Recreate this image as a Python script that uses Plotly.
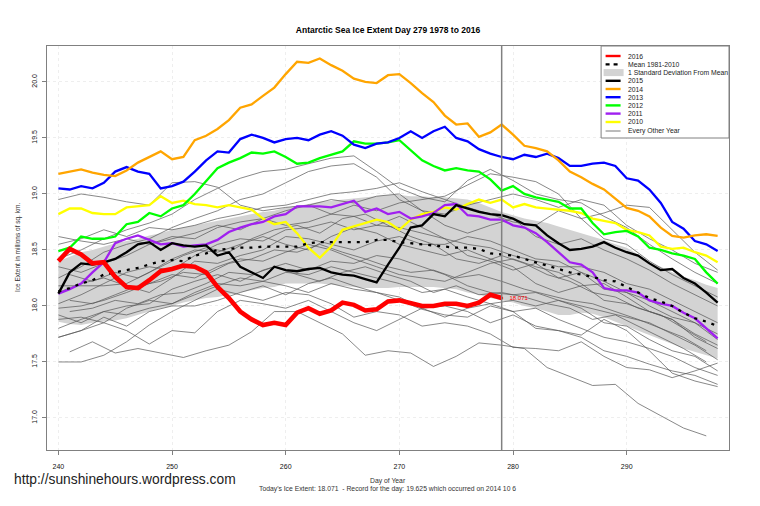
import plotly.graph_objects as go

FONT = "Liberation Sans"
W, H = 760, 506
LEFT, RIGHT, TOP, BOTTOM = 47, 729.5, 46, 450

days = list(range(240, 299))
days_even = list(range(240, 299, 2))
days_odd = list(range(241, 298, 2))
days_2016 = list(range(240, 280))

# ice extent, one row per ten days
ice_2016 = [18.4, 18.51, 18.46, 18.38, 18.39, 18.26, 18.17, 18.16, 18.23, 18.31,
            18.33, 18.36, 18.35, 18.3, 18.17, 18.07, 17.95, 17.88, 17.83, 17.85,
            17.83, 17.94, 17.98, 17.93, 17.96, 18.03, 18.01, 17.96, 17.97, 18.04,
            18.05, 18.03, 18.0, 18.0, 18.02, 18.02, 18.0, 18.03, 18.1, 18.071]
ice_mean = [18.13, 18.16, 18.2, 18.23, 18.28, 18.3, 18.32, 18.34, 18.37, 18.4,
            18.41, 18.4, 18.45, 18.47, 18.5, 18.51, 18.52, 18.52, 18.53, 18.53,
            18.53, 18.53, 18.56, 18.57, 18.57, 18.57, 18.57, 18.57, 18.59, 18.59,
            18.57, 18.56, 18.55, 18.54, 18.53, 18.52, 18.52, 18.51, 18.47, 18.46,
            18.45, 18.42, 18.39, 18.36, 18.33, 18.3, 18.28, 18.26, 18.23, 18.22,
            18.17, 18.12, 18.07, 18.04, 18.0, 17.94, 17.89, 17.86, 17.82]
sd_upper = [18.4, 18.44, 18.48, 18.5, 18.53, 18.56, 18.58, 18.6, 18.63, 18.65,
            18.68, 18.7, 18.72, 18.74, 18.76, 18.78, 18.8, 18.82, 18.84, 18.85,
            18.88, 18.89, 18.91, 18.93, 18.94, 18.95, 18.96, 18.97, 18.98, 18.99,
            18.99, 18.98, 18.98, 18.97, 18.97, 18.96, 18.95, 18.92, 18.88, 18.84,
            18.81, 18.78, 18.76, 18.74, 18.71, 18.68, 18.65, 18.62, 18.59, 18.55,
            18.52, 18.46, 18.39, 18.35, 18.3, 18.26, 18.23, 18.19, 18.16]
sd_lower = [17.86, 17.84, 17.83, 17.85, 17.86, 17.87, 17.89, 17.92, 17.95, 17.98,
            18.0, 18.03, 18.05, 18.07, 18.08, 18.1, 18.12, 18.14, 18.16, 18.17,
            18.2, 18.2, 18.2, 18.2, 18.19, 18.18, 18.17, 18.16, 18.16, 18.16,
            18.17, 18.17, 18.17, 18.17, 18.16, 18.15, 18.12, 18.1, 18.07, 18.05,
            18.03, 18.0, 17.98, 17.95, 17.92, 17.92, 17.94, 17.93, 17.9, 17.86,
            17.82, 17.78, 17.74, 17.7, 17.66, 17.62, 17.59, 17.56, 17.53]
ice_2015 = [18.11, 18.3, 18.38, 18.37, 18.39, 18.42, 18.48, 18.55, 18.57, 18.5,
            18.56, 18.54, 18.53, 18.54, 18.45, 18.48, 18.35, 18.3, 18.25, 18.35,
            18.32, 18.31, 18.33, 18.34, 18.3, 18.28, 18.27, 18.24, 18.21, 18.37,
            18.52, 18.7, 18.72, 18.82, 18.8, 18.9, 18.87, 18.84, 18.82, 18.81,
            18.78, 18.73, 18.72, 18.63, 18.56, 18.5, 18.51, 18.53, 18.57, 18.52,
            18.48, 18.45, 18.38, 18.32, 18.33, 18.25, 18.2, 18.12, 18.03]
ice_2014 = [19.18, 19.2, 19.22, 19.19, 19.17, 19.16, 19.21, 19.28, 19.33, 19.38,
            19.31, 19.33, 19.48, 19.52, 19.58, 19.66, 19.77, 19.8, 19.875, 19.95,
            20.07, 20.18, 20.17, 20.21, 20.15, 20.1, 20.03, 20.0, 19.99, 20.06,
            20.07, 19.99, 19.9, 19.82, 19.7, 19.62, 19.63, 19.51, 19.55, 19.62,
            19.53, 19.43, 19.41, 19.38, 19.3, 19.2, 19.15, 19.09, 19.04, 18.96,
            18.875, 18.85, 18.8, 18.7, 18.625, 18.61, 18.63, 18.64, 18.625]
ice_2013 = [19.05, 19.04, 19.07, 19.05, 19.1, 19.2, 19.24, 19.2, 19.18, 19.05,
            19.07, 19.11, 19.2, 19.3, 19.38, 19.37, 19.49, 19.53, 19.5, 19.46,
            19.49, 19.5, 19.48, 19.53, 19.56, 19.52, 19.44, 19.41, 19.45, 19.46,
            19.5, 19.56, 19.5, 19.56, 19.6, 19.5, 19.47, 19.4, 19.36, 19.33,
            19.31, 19.35, 19.33, 19.36, 19.32, 19.25, 19.25, 19.27, 19.28, 19.25,
            19.14, 19.12, 19.04, 18.92, 18.75, 18.69, 18.58, 18.55, 18.49]
ice_2012 = [18.49, 18.52, 18.62, 18.6, 18.6, 18.62, 18.73, 18.75, 18.83, 18.8,
            18.87, 18.9, 19.0, 19.12, 19.23, 19.28, 19.32, 19.37, 19.36, 19.38,
            19.33, 19.27, 19.28, 19.32, 19.35, 19.38, 19.47, 19.45, 19.45, 19.46,
            19.48, 19.39, 19.3, 19.25, 19.21, 19.23, 19.21, 19.2, 19.13, 19.03,
            19.07, 19.0, 18.97, 18.95, 18.93, 18.87, 18.87, 18.74, 18.64, 18.66,
            18.67, 18.62, 18.52, 18.5, 18.47, 18.45, 18.42, 18.3, 18.2]
ice_2011 = [18.11, 18.15, 18.2, 18.3, 18.39, 18.56, 18.6, 18.63, 18.59, 18.55,
            18.56, 18.53, 18.54, 18.55, 18.59, 18.66, 18.7, 18.73, 18.75, 18.8,
            18.82, 18.89, 18.89, 18.89, 18.88, 18.91, 18.94, 18.84, 18.87, 18.82,
            18.84, 18.78, 18.8, 18.83, 18.9, 18.91, 18.81, 18.8, 18.77, 18.77,
            18.72, 18.7, 18.65, 18.57, 18.48, 18.39, 18.37, 18.3, 18.16, 18.14,
            18.14, 18.12, 18.05, 18.02, 18.0, 17.94, 17.89, 17.8, 17.71]
ice_2010 = [18.82, 18.87, 18.87, 18.83, 18.82, 18.82, 18.88, 18.89, 18.9, 18.98,
            18.92, 18.94, 18.91, 18.9, 18.88, 18.9, 18.88, 18.86, 18.78, 18.73,
            18.75, 18.65, 18.52, 18.43, 18.53, 18.68, 18.71, 18.74, 18.77, 18.75,
            18.68, 18.77, 18.82, 18.84, 18.88, 18.86, 18.91, 18.95, 18.92, 18.95,
            18.88, 18.91, 18.88, 18.87, 18.86, 18.85, 18.83, 18.78, 18.76, 18.74,
            18.68, 18.66, 18.63, 18.53, 18.51, 18.52, 18.48, 18.45, 18.39]

# every other year, older ones only have a value every second day
grey_even = [
    [18.95, 19.0, 18.97, 18.93, 18.9, 19.1, 19.11, 19.06, 18.9, 18.85,
     18.88, 18.9, 18.82, 18.8, 18.72, 18.7, 18.65, 18.6, 18.55, 18.52,
     18.45, 18.4, 18.35, 18.35, 18.3, 18.2, 18.15, 18.05, 17.95, 17.85],
    [18.42, 18.5, 18.6, 18.68, 18.74, 18.82, 18.95, 19.05, 19.14, 19.2,
     19.22, 19.27, 19.32, 19.34, 19.2, 19.05, 18.97, 18.93, 19.12, 19.22,
     19.12, 19.0, 18.95, 18.92, 18.8, 18.7, 18.55, 18.42, 18.3, 18.2],
    [18.25, 18.35, 18.48, 18.55, 18.6, 18.7, 18.78, 18.85, 18.95, 19.0,
     19.1, 19.2, 19.25, 19.27, 19.15, 18.95, 18.85, 18.82, 18.9, 18.95,
     19.0, 18.95, 18.88, 18.95, 18.9, 18.72, 18.6, 18.5, 18.38, 18.3],
    [18.55, 18.6, 18.68, 18.62, 18.7, 18.68, 18.72, 18.78, 18.82, 18.88,
     18.9, 18.95, 19.0, 19.02, 19.05, 19.1, 19.02, 18.95, 18.88, 18.82,
     18.75, 18.72, 18.85, 18.78, 18.6, 18.55, 18.4, 18.28, 18.18, 18.08],
    [18.35, 18.3, 18.38, 18.45, 18.55, 18.62, 18.6, 18.7, 18.75, 18.78,
     18.85, 18.9, 18.95, 18.92, 18.98, 19.0, 18.85, 18.72, 18.65, 18.72,
     18.78, 18.62, 18.55, 18.6, 18.5, 18.42, 18.32, 18.2, 18.1, 18.0],
    [18.02, 18.1, 18.2, 18.3, 18.35, 18.32, 18.45, 18.55, 18.6, 18.58,
     18.68, 18.7, 18.75, 18.68, 18.72, 18.8, 18.7, 18.6, 18.45, 18.4,
     18.32, 18.38, 18.25, 18.3, 18.15, 18.12, 18.05, 17.95, 17.85, 17.75],
    [18.18, 18.18, 18.18, 18.2, 18.3, 18.42, 18.5, 18.48, 18.55, 18.62,
     18.55, 18.5, 18.62, 18.7, 18.65, 18.55, 18.5, 18.45, 18.5, 18.42,
     18.35, 18.2, 18.12, 18.18, 18.2, 18.08, 17.95, 17.88, 17.72, 17.62],
    [17.98, 18.0, 18.05, 18.12, 18.2, 18.28, 18.25, 18.35, 18.42, 18.4,
     18.48, 18.55, 18.5, 18.42, 18.35, 18.28, 18.25, 18.22, 18.3, 18.38,
     18.42, 18.35, 18.3, 18.2, 18.05, 18.02, 17.95, 17.88, 17.75, 17.65],
    [17.92, 17.85, 17.95, 18.0, 18.02, 18.15, 18.22, 18.28, 18.22, 18.32,
     18.38, 18.32, 18.4, 18.38, 18.45, 18.42, 18.35, 18.28, 18.18, 18.12,
     18.1, 18.12, 18.05, 18.0, 17.95, 17.9, 17.85, 17.75, 17.65, 17.52],
    [17.88, 17.9, 17.85, 17.98, 18.05, 18.02, 18.1, 18.18, 18.25, 18.22,
     18.3, 18.28, 18.35, 18.3, 18.25, 18.2, 18.12, 18.15, 18.08, 18.02,
     18.05, 18.0, 18.05, 17.98, 17.85, 17.82, 17.7, 17.6, 17.55, 17.42],
    [17.72, 17.78, 17.9, 17.82, 17.95, 18.0, 18.0, 18.05, 18.12, 18.18,
     18.1, 18.2, 18.25, 18.18, 18.12, 18.08, 17.98, 17.9, 17.98, 18.02,
     17.95, 17.98, 17.88, 17.8, 17.72, 17.68, 17.62, 17.55, 17.45, 17.38],
    [17.72, 17.78, 17.85, 17.78, 17.66, 17.78, 17.76, 17.95, 18.05, 18.02,
     17.98, 18.05, 17.95, 17.85, 17.78, 17.88, 17.98, 18.0, 17.95, 17.85,
     17.92, 17.82, 17.78, 17.72, 17.6, 17.55, 17.48, 17.42, 17.38, 17.3],
    [17.5, 17.5, 17.56, 17.68, 17.83, 17.95, 18.05, 18.15, 18.1, 18.05,
     18.12, 18.1, 18.02, 17.9, 17.95, 17.92, 17.82, 17.85, 17.82, 17.75,
     17.63, 17.62, 17.6, 17.68, 17.55, 17.45, 17.43, 17.36, 17.42, 17.49],
    [17.8, 17.88, 17.95, 17.92, 17.98, 18.02, 18.12, 18.2, 18.18, 18.22,
     18.18, 18.12, 18.2, 18.15, 18.12, 18.05, 17.97, 17.92, 17.9, 18.0,
     17.95, 17.8, 17.78, 17.74, 17.88, 17.78, 17.6, 17.4, 17.33, 17.28],
    [18.62, 18.58, 18.55, 18.6, 18.55, 18.6, 18.65, 18.72, 18.68, 18.78,
     18.72, 18.75, 18.82, 18.9, 18.85, 18.92, 18.95, 18.98, 19.08, 19.18,
     19.15, 19.11, 19.0, 18.78, 18.83, 18.9, 18.88, 18.68, 18.48, 18.32],
    [18.12, 18.2, 18.25, 18.18, 18.12, 18.25, 18.4, 18.38, 18.45, 18.5,
     18.62, 18.6, 18.55, 18.5, 18.58, 18.62, 18.55, 18.55, 18.62, 18.58,
     18.5, 18.42, 18.4, 18.3, 18.22, 18.12, 18.0, 17.9, 17.85, 17.7],
]
grey_odd = [
    [17.59, 17.68, 17.58, 17.62, 17.58, 17.54, 17.6, 17.65, 17.77, 17.95,
     17.95, 17.85, 17.75, 17.56, 17.6, 17.58, 17.46, 17.55, 17.67, 17.65,
     17.62, 17.45, 17.37, 17.29, 17.3, 17.13, 17.02, 16.91, 16.84],
    [18.05, 18.02, 18.1, 18.18, 18.22, 18.3, 18.28, 18.38, 18.42, 18.5,
     18.48, 18.55, 18.48, 18.42, 18.35, 18.3, 18.32, 18.25, 18.28, 18.22,
     18.15, 18.1, 18.05, 18.02, 17.95, 17.88, 17.8, 17.72, 17.6],
    [18.28, 18.22, 18.3, 18.25, 18.35, 18.45, 18.52, 18.48, 18.6, 18.68,
     18.72, 18.65, 18.78, 18.82, 18.72, 18.62, 18.55, 18.42, 18.38, 18.45,
     18.38, 18.28, 18.22, 18.12, 18.08, 17.98, 17.92, 17.8, 17.68],
    [17.95, 17.98, 18.05, 18.02, 18.1, 18.12, 18.2, 18.3, 18.28, 18.35,
     18.28, 18.22, 18.3, 18.35, 18.28, 18.22, 18.12, 18.18, 18.1, 18.12,
     18.08, 18.02, 17.98, 17.88, 17.92, 17.82, 17.72, 17.62, 17.5],
]

x_ticks = [240, 250, 260, 270, 280, 290]
y_ticks = [17.0, 17.5, 18.0, 18.5, 19.0, 19.5, 20.0]
legend_labels = ["2016", "Mean 1981-2010", "1 Standard Deviation From Mean", "2015", "2014",
                 "2013", "2012", "2011", "2010", "Every Other Year"]
legend_colors = ["#ff0000", "#000000", "#d3d3d3", "#000000", "#ffa500",
                 "#0000ff", "#00ff00", "#a020f0", "#ffff00", "#555555"]
legend_rows = [56, 64.3, 72.6, 80.8, 89, 97.2, 105.4, 113.6, 122, 131]


def px(x):
    return (x - LEFT) / (RIGHT - LEFT)


def py(y):
    return (BOTTOM - y) / (BOTTOM - TOP)


fig = go.Figure()

# 1. the standard deviation band
fig.add_trace(go.Scatter(x=days + days[::-1], y=sd_upper + sd_lower[::-1], fill="toself",
                         fillcolor="#d3d3d3", mode="lines", line=dict(width=0),
                         name="1 Standard Deviation From Mean"))

# 2. thin lines
for vals in grey_even:
    fig.add_trace(go.Scatter(x=days_even, y=vals, mode="lines",
                             line=dict(color="#555555", width=0.7), name="Every Other Year"))
for vals in grey_odd:
    fig.add_trace(go.Scatter(x=days_odd, y=vals, mode="lines",
                             line=dict(color="#555555", width=0.7), name="Every Other Year"))

# 3. the highlighted years
fig.add_trace(go.Scatter(x=days, y=ice_2010, mode="lines", line=dict(color="#ffff00", width=2.3), name="2010"))
fig.add_trace(go.Scatter(x=days, y=ice_2011, mode="lines", line=dict(color="#a020f0", width=2.3), name="2011"))
fig.add_trace(go.Scatter(x=days, y=ice_2012, mode="lines", line=dict(color="#00ff00", width=2.3), name="2012"))
fig.add_trace(go.Scatter(x=days, y=ice_2013, mode="lines", line=dict(color="#0000ff", width=2.3), name="2013"))
fig.add_trace(go.Scatter(x=days, y=ice_2014, mode="lines", line=dict(color="#ffa500", width=2.3), name="2014"))
fig.add_trace(go.Scatter(x=days, y=ice_mean, mode="lines",
                         line=dict(color="#000000", width=2.3, dash="3px,6px"), name="Mean 1981-2010"))
fig.add_trace(go.Scatter(x=days, y=ice_2015, mode="lines", line=dict(color="#000000", width=2.3), name="2015"))
fig.add_trace(go.Scatter(x=days_2016, y=ice_2016, mode="lines", line=dict(color="#ff0000", width=4.6), name="2016"))
fig.add_trace(go.Scatter(x=days_2016[-1:], y=ice_2016[-1:], mode="markers+text",
                         marker=dict(color="#ff0000", size=3),
                         text=["   " + str(ice_2016[-1])], textposition="middle right",
                         textfont=dict(family=FONT, size=6, color="#ff0000"), name="Today"))

# 4. the legend box, drawn by hand since plotly will not pack rows this tight
shapes = [
    dict(type="line", xref="x", yref="paper", x0=days_2016[-1], x1=days_2016[-1], y0=0, y1=1,
         line=dict(color="#808080", width=1.5)),
    dict(type="rect", xref="paper", yref="paper", x0=px(601.5), x1=1, y0=py(138), y1=1,
         fillcolor="#ffffff", line=dict(color="#808080", width=1)),
]
annotations = []
for label, color, row in zip(legend_labels, legend_colors, legend_rows):
    if label.startswith("1 Standard"):
        shapes.append(dict(type="rect", xref="paper", yref="paper", x0=px(604), x1=px(624),
                           y0=py(row + 3.5), y1=py(row - 3.5), fillcolor=color, line=dict(width=0)))
    elif label.startswith("Mean"):
        shapes.append(dict(type="line", xref="paper", yref="paper", x0=px(606), x1=px(621),
                           y0=py(row), y1=py(row), line=dict(color=color, width=2.2, dash="4px,4px")))
    else:
        width = 0.8 if label.startswith("Every") else 2.4
        shapes.append(dict(type="line", xref="paper", yref="paper", x0=px(606), x1=px(621),
                           y0=py(row), y1=py(row), line=dict(color=color, width=width)))
    annotations.append(dict(text=label, xref="paper", yref="paper", x=px(626), y=py(row),
                            xanchor="left", yanchor="middle", showarrow=False,
                            font=dict(family=FONT, size=6.8, color="#222222")))

# 5. texts under the chart
annotations.append(dict(text="http://sunshinehours.wordpress.com", xref="paper", yref="paper",
                        x=px(12), y=py(479), xanchor="left", yanchor="middle", showarrow=False,
                        font=dict(family=FONT, size=13.8, color="#222222")))
annotations.append(dict(text="Day of Year", xref="paper", yref="paper", x=px(388), y=py(480.5),
                        xanchor="center", yanchor="middle", showarrow=False,
                        font=dict(family=FONT, size=6.8, color="#333333")))
annotations.append(dict(text="Today's Ice Extent: 18.071  - Record for the day: 19.625 which occurred on 2014 10 6",
                        xref="paper", yref="paper", x=px(388), y=py(489), xanchor="center", yanchor="middle",
                        showarrow=False, font=dict(family=FONT, size=6.8, color="#333333")))
annotations.append(dict(text="Ice Extent in millions of sq. km.", xref="paper", yref="paper", x=px(18), y=py(248),
                        xanchor="center", yanchor="middle", textangle=-90, showarrow=False,
                        font=dict(family=FONT, size=6.5, color="#333333")))

fig.update_layout(
    width=W, height=H, autosize=False,
    margin=dict(l=LEFT, r=W - RIGHT, t=TOP, b=H - BOTTOM, pad=0),
    paper_bgcolor="#ffffff", plot_bgcolor="#ffffff",
    showlegend=False, shapes=shapes, annotations=annotations,
    title=dict(text="<b>Antarctic Sea Ice Extent Day 279 1978 to 2016</b>", x=388 / W, y=1 - 30 / H,
               xref="container", xanchor="center", yanchor="middle",
               font=dict(family=FONT, size=8.5, color="#000000")),
)
fig.update_xaxes(range=[239, 299], tickvals=x_ticks, ticks="outside", ticklen=4, tickcolor="#808080",
                 ticklabelstandoff=5,
                 showline=True, mirror=True, linecolor="#808080", linewidth=1.2,
                 showgrid=True, gridcolor="#eeeeee", griddash="dot", gridwidth=0.6, zeroline=False,
                 tickfont=dict(family=FONT, size=7, color="#111111"))
fig.update_yaxes(range=[16.714, 20.321], tickvals=y_ticks, tickformat=".1f", tickangle=-90,
                 ticks="outside", ticklen=4, tickcolor="#808080", ticklabelstandoff=2,
                 showline=True, mirror=True, linecolor="#808080", linewidth=1.2,
                 showgrid=True, gridcolor="#eeeeee", griddash="dot", gridwidth=0.6, zeroline=False,
                 tickfont=dict(family=FONT, size=7, color="#111111"))

# the page's default body margin would push the chart 8px in
fig.write_html("out.html", config=dict(displayModeBar=False),
               post_script="document.body.style.margin='0';")
